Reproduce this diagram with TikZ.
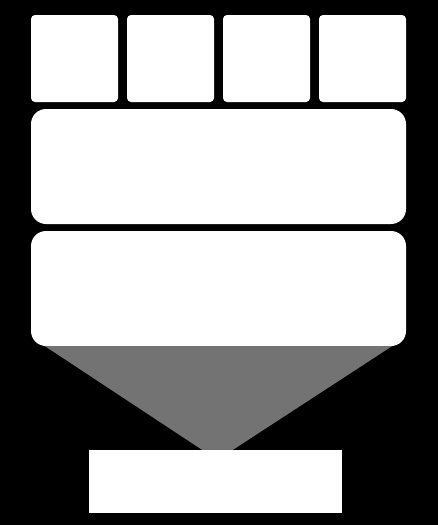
\documentclass[tikz,border=0pt]{standalone}
\usepackage{tikz}
\usetikzlibrary{calc}

\begin{document}
\begin{tikzpicture}[x=1pt,y=-1pt,
  tile/.style={fill=white,inner sep=0pt,minimum width=87pt,minimum height=87pt,rounded corners=4pt},
  slab/.style={fill=white,inner sep=0pt,minimum width=375pt,minimum height=115pt,rounded corners=15pt},
  base/.style={fill=white,inner sep=0pt,minimum width=253pt,minimum height=63pt}]
\fill [black] (0,0) rectangle (438,525);
\useasboundingbox (0,0) rectangle (438,525);
\foreach \i/\x in {1/74.5,2/170.5,3/266.5,4/362.5}
  \node [tile] (tile\i) at (\x,58.5) {};
\node [slab] (upper) at (218.5,166.5) {};
\node [slab] (lower) at (218.5,288.5) {};
\node [base] (out) at (215.5,481.5) {};
\fill [black!55] ($(lower.south)+(-173.5,0)$) -- ($(lower.south)+(173.5,0)$)
  -- ($(out.north)+(17.5,0)$) -- ($(out.north)+(-13.5,0)$) -- cycle;
\end{tikzpicture}
\end{document}
